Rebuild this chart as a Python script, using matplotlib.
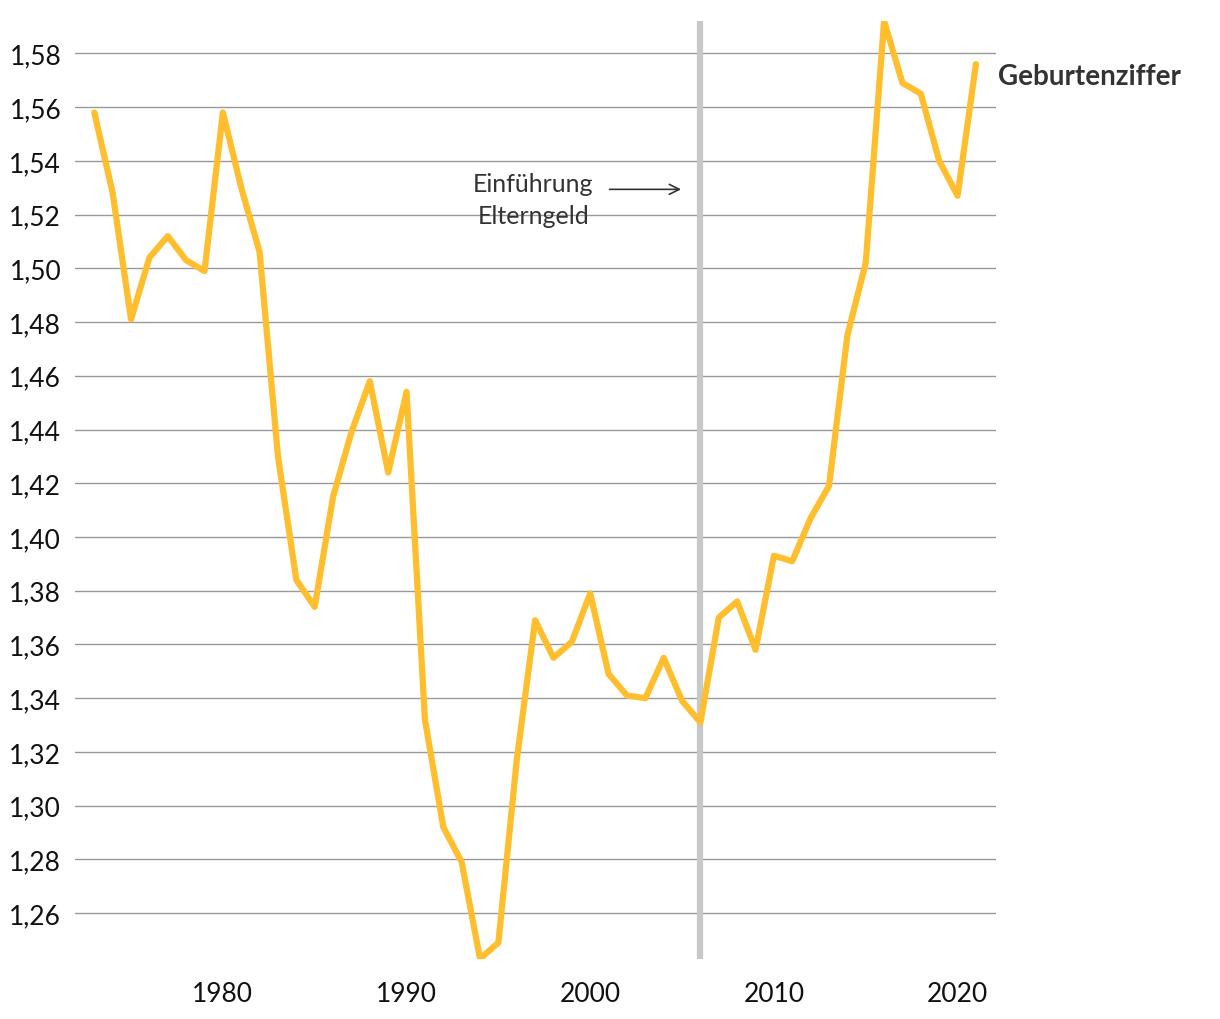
import matplotlib.pyplot as plt
from matplotlib.ticker import FuncFormatter

years = list(range(1973, 2022))
rate = [1.558, 1.528, 1.481, 1.504, 1.512, 1.503, 1.499, 1.558, 1.530, 1.506,
        1.430, 1.384, 1.374, 1.415, 1.439, 1.458, 1.424, 1.454, 1.332, 1.292,
        1.279, 1.243, 1.249, 1.317, 1.369, 1.355, 1.361, 1.379, 1.349, 1.341,
        1.340, 1.355, 1.339, 1.331, 1.370, 1.376, 1.358, 1.393, 1.391, 1.407,
        1.419, 1.475, 1.502, 1.592, 1.569, 1.565, 1.540, 1.527, 1.576]
yticks = [1.26, 1.28, 1.30, 1.32, 1.34, 1.36, 1.38, 1.40, 1.42, 1.44,
          1.46, 1.48, 1.50, 1.52, 1.54, 1.56, 1.58]
xticks = [1980, 1990, 2000, 2010, 2020]
event_year = 2006

plt.rcParams['font.family'] = ['Lato', 'DejaVu Sans']

fig = plt.figure(figsize=(12.2, 10.2), dpi=100)
ax = fig.add_axes([0.0615, 0.0588, 0.755, 0.9192])

ax.set_xlim(1971.95, 2022.1)
ax.set_ylim(1.2429, 1.5919)
ax.set_yticks(yticks)
ax.set_xticks(xticks)
ax.yaxis.set_major_formatter(FuncFormatter(lambda v, p: f"{v:.2f}".replace('.', ',')))
ax.grid(axis='y', color='#999999', linewidth=1)
ax.set_axisbelow(True)
for s in ax.spines.values():
    s.set_visible(False)
ax.tick_params(length=0, labelsize=19, colors='#111111')
ax.tick_params(axis='y', pad=10)
ax.tick_params(axis='x', pad=16)

ax.axvline(event_year, color='#c8c8c8', linewidth=4.5, zorder=2)
ax.plot(years, rate, color='#ffbe2e', linewidth=4.5, solid_joinstyle='round',
        solid_capstyle='round', zorder=3)

# annotation for Elterngeld
ax.text(1996.9, 1.5257, "Einführung\nElterngeld", ha='center', va='center',
        fontsize=18, color='#333333', linespacing=1.5)
ax.annotate("", xy=(2005.1, 1.5294), xytext=(2000.9, 1.5294),
            arrowprops=dict(arrowstyle='->', color='#333333', lw=1.2,
                            mutation_scale=18))
ax.text(2022.2, rate[-1] - 0.0045, "Geburtenziffer", ha='left', va='center',
        fontsize=20, fontweight='bold', color='#333333')

fig.savefig("out.png", dpi=100, facecolor='white')
